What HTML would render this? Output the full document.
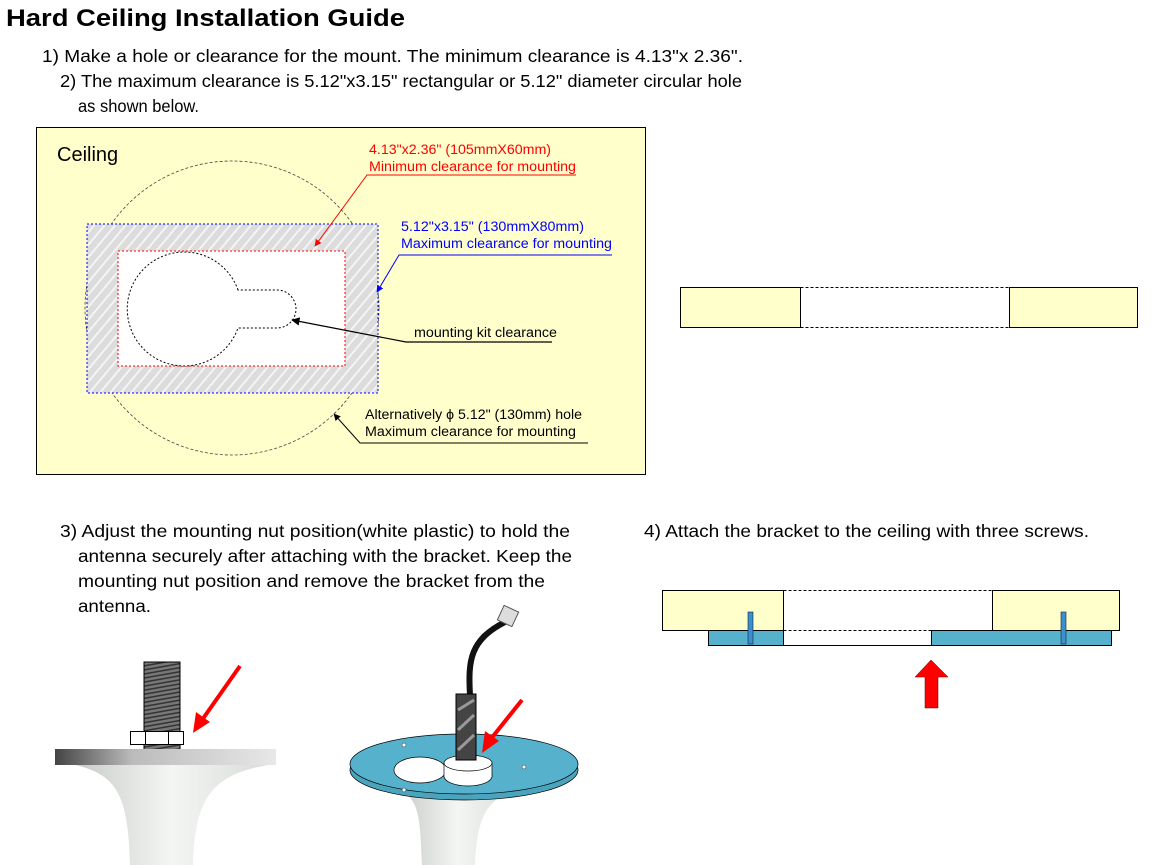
<!DOCTYPE html>
<html><head><meta charset="utf-8"><style>
html,body{margin:0;padding:0;background:#fff;}
svg{display:block;font-family:"Liberation Sans",sans-serif;}
</style></head><body>
<svg width="1154" height="865" viewBox="0 0 1154 865" xmlns="http://www.w3.org/2000/svg">
<defs>
<pattern id="hatch" width="8" height="8" patternUnits="userSpaceOnUse" patternTransform="rotate(40)">
<rect width="8" height="8" fill="#dcdcdc"/><rect width="2" height="8" fill="#f4f4f4"/>
</pattern>
<marker id="ar" viewBox="0 0 10 10" refX="9" refY="5" markerWidth="7" markerHeight="7" orient="auto"><path d="M0,0L10,5L0,10z" fill="red"/></marker>
<marker id="ab" viewBox="0 0 10 10" refX="9" refY="5" markerWidth="7" markerHeight="7" orient="auto"><path d="M0,0L10,5L0,10z" fill="blue"/></marker>
<marker id="ak" viewBox="0 0 10 10" refX="9" refY="5" markerWidth="7" markerHeight="7" orient="auto"><path d="M0,0L10,5L0,10z" fill="#000"/></marker>
<linearGradient id="plate" x1="0" x2="1"><stop offset="0" stop-color="#444"/><stop offset="0.35" stop-color="#bbb"/><stop offset="1" stop-color="#e8e8e8"/></linearGradient>
<linearGradient id="body" x1="0" x2="1"><stop offset="0" stop-color="#c8ccc8"/><stop offset="0.5" stop-color="#f4f6f4"/><stop offset="1" stop-color="#d8dcd8"/></linearGradient>
<pattern id="thread" width="6" height="4" patternUnits="userSpaceOnUse" patternTransform="rotate(-10)"><rect width="6" height="4" fill="#777"/><rect width="6" height="1.5" fill="#333"/></pattern>
</defs>

<text x="6" y="26" font-size="24" font-weight="bold" textLength="399" lengthAdjust="spacingAndGlyphs">Hard Ceiling Installation Guide</text>
<g font-size="17.5">
<text x="42" y="62" textLength="701" lengthAdjust="spacingAndGlyphs">1) Make a hole or clearance for the mount. The minimum clearance is 4.13"x 2.36".</text>
<text x="60" y="87" textLength="682" lengthAdjust="spacingAndGlyphs">2) The maximum clearance is 5.12"x3.15" rectangular or 5.12" diameter circular hole</text>
<text x="78" y="112" textLength="121" lengthAdjust="spacingAndGlyphs">as shown below.</text>
<text x="60" y="537" textLength="510" lengthAdjust="spacingAndGlyphs">3) Adjust the mounting nut position(white plastic) to hold the</text>
<text x="78" y="562" textLength="494" lengthAdjust="spacingAndGlyphs">antenna securely after attaching with the bracket. Keep the</text>
<text x="78" y="587" textLength="467" lengthAdjust="spacingAndGlyphs">mounting nut position and remove the bracket from the</text>
<text x="78" y="612" textLength="73" lengthAdjust="spacingAndGlyphs">antenna.</text>
<text x="644" y="537" textLength="445" lengthAdjust="spacingAndGlyphs">4) Attach the bracket to the ceiling with three screws.</text>
</g>

<!-- diagram 1 -->
<rect x="36.5" y="127.5" width="609" height="347" fill="#ffffcc" stroke="#000" stroke-width="1"/>
<text x="57" y="161" font-size="20">Ceiling</text>
<circle cx="232" cy="308" r="147" fill="none" stroke="#444" stroke-width="0.8" stroke-dasharray="3,2"/>
<rect x="87" y="224" width="291" height="169" fill="url(#hatch)" stroke="blue" stroke-width="1" stroke-dasharray="2,2"/>
<rect x="118" y="251" width="227" height="115" fill="#fff" stroke="red" stroke-width="1" stroke-dasharray="2,2"/>
<path d="M238,290 A57,57 0 1 0 238,328 L277,328 A19,19 0 0 0 277,290 Z" fill="#fff" stroke="#000" stroke-width="1" stroke-dasharray="2,2"/>

<g font-size="13.5">
<text x="369" y="154" fill="red" textLength="182" lengthAdjust="spacingAndGlyphs">4.13"x2.36" (105mmX60mm)</text>
<text x="369" y="171" fill="red" textLength="207" lengthAdjust="spacingAndGlyphs">Minimum clearance for mounting</text>
<path d="M576,175H367L315,246" fill="none" stroke="red" marker-end="url(#ar)"/>
<text x="401" y="231" fill="blue" textLength="183" lengthAdjust="spacingAndGlyphs">5.12"x3.15" (130mmX80mm)</text>
<text x="401" y="248" fill="blue" textLength="211" lengthAdjust="spacingAndGlyphs">Maximum clearance for mounting</text>
<path d="M612,255H399L377,292" fill="none" stroke="blue" marker-end="url(#ab)"/>
<text x="414" y="337" textLength="143" lengthAdjust="spacingAndGlyphs">mounting kit clearance</text>
<path d="M552,342H406L292,320" fill="none" stroke="#000" stroke-width="1.2" marker-end="url(#ak)"/>
<text x="365" y="419" textLength="217" lengthAdjust="spacingAndGlyphs">Alternatively ϕ 5.12" (130mm) hole</text>
<text x="365" y="436" textLength="211" lengthAdjust="spacingAndGlyphs">Maximum clearance for mounting</text>
<path d="M588,443H360L334,414" fill="none" stroke="#000" marker-end="url(#ak)"/>
</g>

<!-- diagram 2 -->
<rect x="680.5" y="287.5" width="120" height="40" fill="#ffffcc" stroke="#000"/>
<rect x="1009.5" y="287.5" width="128" height="40" fill="#ffffcc" stroke="#000"/>
<path d="M800.5,287.5H1009.5M800.5,327.5H1009.5" stroke="#000" stroke-dasharray="3,2"/>
<path d="M800.5,287.5V327.5" stroke="#000" stroke-dasharray="2,2"/>

<!-- diagram 4 -->
<rect x="708.5" y="630.5" width="75" height="15" fill="#56b2cc" stroke="#000"/>
<rect x="931.5" y="630.5" width="180" height="15" fill="#56b2cc" stroke="#000"/>
<path d="M783.5,645.5H931.5" stroke="#000"/>
<rect x="662.5" y="590.5" width="121" height="40" fill="#ffffcc" stroke="#000"/>
<rect x="992.5" y="590.5" width="127" height="40" fill="#ffffcc" stroke="#000"/>
<path d="M783.5,590.5H992.5M783.5,630.5H992.5" stroke="#000" stroke-dasharray="3,2"/>
<path d="M783.5,590.5V630.5" stroke="#000" stroke-dasharray="2,2"/>
<rect x="748" y="612" width="5" height="32" fill="#3a8fd0" stroke="#123"  stroke-width="0.6"/>
<rect x="1061" y="612" width="5" height="32" fill="#3a8fd0" stroke="#123" stroke-width="0.6"/>
<path d="M931,660L948,677H938V708H925V677H915Z" fill="red" stroke="#600" stroke-width="0.5"/>

<!-- left antenna -->
<path d="M75,765 C120,775 128,800 130,865 H193 C195,800 210,775 268,765 Z" fill="url(#body)"/>
<rect x="144" y="662" width="36" height="90" fill="url(#thread)" stroke="#000"/>
<rect x="55" y="749" width="221" height="16" fill="url(#plate)"/>
<rect x="130.5" y="731.5" width="53" height="13" fill="#fff" stroke="#000"/>
<path d="M145.5,731.5V744.5M168.5,731.5V744.5" stroke="#000"/>
<path d="M240,666L202,720" stroke="red" stroke-width="4"/>
<path d="M193,733L196,712L210,722Z" fill="red"/>

<!-- right antenna -->
<path d="M400,790 C420,800 420,820 422,865 H475 C477,820 485,800 515,790 Z" fill="url(#body)"/>
<ellipse cx="464" cy="770" rx="114" ry="30" fill="#4aa4be" stroke="#000" stroke-width="0.7"/>
<ellipse cx="464" cy="764" rx="114" ry="30" fill="#56b2cc" stroke="#000" stroke-width="0.7"/>
<ellipse cx="420" cy="770" rx="26" ry="13" fill="#fff" stroke="#000" stroke-width="0.7"/>
<ellipse cx="468" cy="776" rx="24" ry="10" fill="#fff" stroke="#000" stroke-width="0.7"/>
<rect x="444" y="763" width="48" height="14" fill="#fff"/>
<path d="M444,763V777M492,763V777" stroke="#000" stroke-width="0.7"/>
<ellipse cx="468" cy="763" rx="24" ry="8" fill="#fff" stroke="#000" stroke-width="0.7"/>
<path d="M470,695 C468,660 470,640 505,622" fill="none" stroke="#111" stroke-width="6"/>
<rect x="500" y="608" width="16" height="16" fill="#ddd" stroke="#555" transform="rotate(25 508 616)"/>
<rect x="456" y="694" width="20" height="66" fill="#444" stroke="#000"/>
<path d="M458,710L474,700M458,730L474,715M458,750L474,735" stroke="#999" stroke-width="3"/>
<circle cx="404" cy="745" r="2" fill="#fff" stroke="#333" stroke-width="0.5"/>
<circle cx="524" cy="767" r="2" fill="#fff" stroke="#333" stroke-width="0.5"/>
<circle cx="404" cy="790" r="2" fill="#fff" stroke="#333" stroke-width="0.5"/>
<path d="M522,700L490,740" stroke="red" stroke-width="4"/>
<path d="M482,753L485,731L499,741Z" fill="red"/>
</svg>
</body></html>
